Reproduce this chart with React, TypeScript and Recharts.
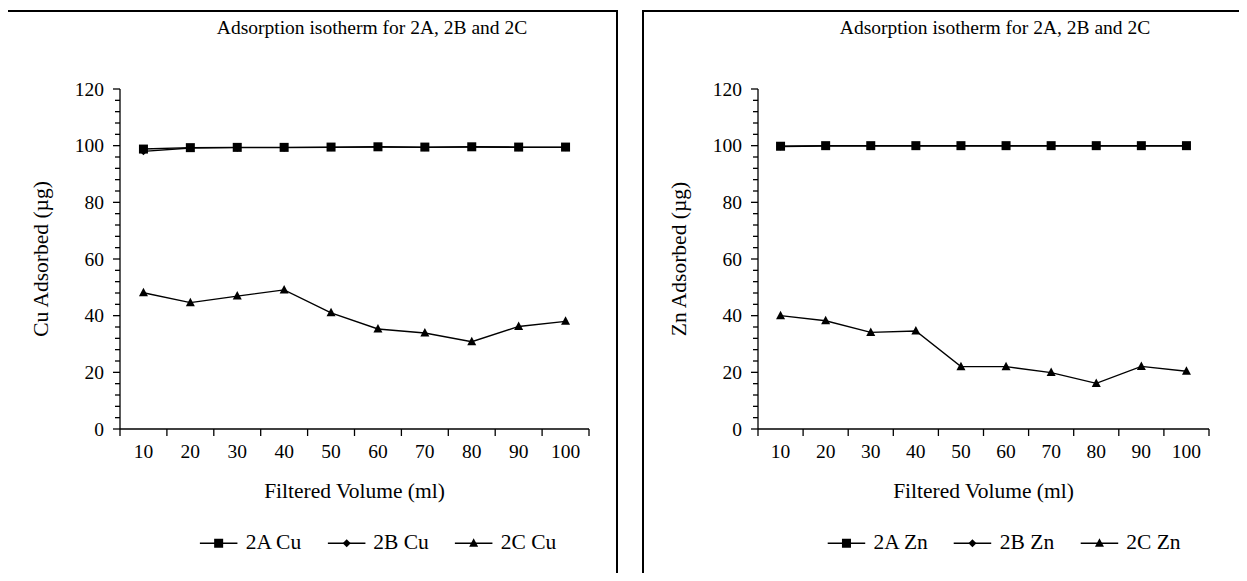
import { LineChart, Line, XAxis, YAxis } from 'recharts';

// filtered volume (ml)
const volumes = [10, 20, 30, 40, 50, 60, 70, 80, 90, 100];
const yTicks = [0, 4, 8, 12, 16, 20, 24, 28, 32, 36, 40, 44, 48, 52, 56, 60, 64, 68, 72, 76, 80, 84, 88, 92, 96, 100, 104, 108, 112, 116, 120];

// Cu adsorbed (µg)
const cu2A = [98.8, 99.3, 99.4, 99.4, 99.5, 99.6, 99.5, 99.6, 99.5, 99.5];
const cu2B = [98.0, 99.2, 99.3, 99.3, 99.4, 99.5, 99.4, 99.5, 99.4, 99.4];
const cu2C = [48.1, 44.6, 46.9, 49.1, 41.0, 35.3, 33.9, 30.8, 36.2, 38.0];

// Zn adsorbed (µg)
const zn2A = [99.8, 100, 100, 100, 100, 100, 100, 100, 100, 100];
const zn2B = [99.7, 99.9, 99.9, 99.9, 99.9, 99.9, 99.9, 99.9, 99.9, 99.9];
const zn2C = [40.0, 38.2, 34.1, 34.6, 22.0, 22.0, 19.9, 16.1, 22.1, 20.4];

const seriesNames = ['2A', '2B', '2C'];
const shapes = ['square', 'diamond', 'triangle'];

const font = '"Liberation Serif", "Times New Roman", serif';
const H = 581;
const PLOT_TOP = 89;
const PLOT_BOTTOM = 429;
const PLOT_LEFT = 120;

function Marker({ cx, cy, shape }: any) {
  if (cx == null || cy == null) return null;
  if (shape === 'square') return <rect x={cx - 4.5} y={cy - 4.5} width={9} height={9} fill="#000" />;
  if (shape === 'diamond') return <polygon points={`${cx},${cy - 4} ${cx + 4},${cy} ${cx},${cy + 4} ${cx - 4},${cy}`} fill="#000" />;
  return <polygon points={`${cx},${cy - 5} ${cx + 4.5},${cy + 3.5} ${cx - 4.5},${cy + 3.5}`} fill="#000" />;
}

const YTick = ({ x, y, payload }: any) => {
  const major = payload.value % 20 === 0;
  return (
    <g>
      <line x1={x - (major ? 7 : 5)} x2={x} y1={y} y2={y} stroke="#000" strokeWidth={1.3} />
      {major && (
        <text x={x - 16} y={y} dy="0.35em" textAnchor="end" fontFamily={font} fontSize={19.5} fill="#000">
          {payload.value}
        </text>
      )}
    </g>
  );
};

const makeXTick = (band: number, count: number) => ({ x, y, payload, index }: any) => (
  <g>
    <line x1={x - band / 2} x2={x - band / 2} y1={y} y2={y + 7} stroke="#000" strokeWidth={1.3} />
    {index === count - 1 && <line x1={x + band / 2} x2={x + band / 2} y1={y} y2={y + 7} stroke="#000" strokeWidth={1.3} />}
    <text x={x} y={y + 22} dy="0.35em" textAnchor="middle" fontFamily={font} fontSize={19.5} fill="#000">
      {payload.value}
    </text>
  </g>
);

function Panel({ left, width, plotRight, metal, values, titleX, legendX }: any) {
  const data = volumes.map((v, i) => ({ vol: v, s0: values[0][i], s1: values[1][i], s2: values[2][i] }));
  const plotW = plotRight - PLOT_LEFT;
  const XTick = makeXTick(plotW / volumes.length, volumes.length);
  const txt = { position: 'absolute' as const, fontFamily: font, fontSize: 21.5, color: '#000', whiteSpace: 'nowrap' as const, lineHeight: 1 };
  return (
    <div style={{ position: 'absolute', left, top: 0, width, height: H }}>
      <LineChart width={width} height={H} data={data} margin={{ top: PLOT_TOP, right: width - plotRight, bottom: H - PLOT_BOTTOM - 30, left: PLOT_LEFT - 60 }}>
        <XAxis dataKey="vol" scale="band" height={30} tickSize={0} tickMargin={0} tick={XTick} stroke="#000" strokeWidth={1.3} interval={0} />
        <YAxis width={60} domain={[0, 120]} ticks={yTicks} tickSize={0} tickMargin={0} tick={YTick} stroke="#000" strokeWidth={1.3} interval={0} />
        {[0, 1, 2].map((k) => (
          <Line
            key={k}
            dataKey={`s${k}`}
            stroke="#000"
            strokeWidth={1.4}
            isAnimationActive={false}
            dot={(p: any) => <Marker key={`${k}-${p.index}`} cx={p.cx} cy={p.cy} shape={shapes[k]} />}
            activeDot={false}
          />
        ))}
      </LineChart>
      <div style={{ ...txt, fontSize: 19.5, left: titleX, top: 28, transform: 'translate(-50%, -50%)' }}>
        Adsorption isotherm for 2A, 2B and 2C
      </div>
      <div style={{ ...txt, left: 42, top: (PLOT_TOP + PLOT_BOTTOM) / 2, transform: 'translate(-50%, -50%) rotate(-90deg)' }}>
        {metal} Adsorbed (µg)
      </div>
      <div style={{ ...txt, left: PLOT_LEFT + plotW / 2, top: 492, transform: 'translate(-50%, -50%)' }}>
        Filtered Volume (ml)
      </div>
      <div style={{ ...txt, left: legendX, top: 543, transform: 'translate(-50%, -50%)', display: 'flex', alignItems: 'center', gap: 26 }}>
        {seriesNames.map((n, k) => (
          <div key={n} style={{ display: 'flex', alignItems: 'center', gap: 8 }}>
            <svg width={38} height={12}>
              <line x1={0} x2={38} y1={6} y2={6} stroke="#000" strokeWidth={1.4} />
              <Marker cx={19} cy={6} shape={shapes[k]} />
            </svg>
            <span>{`${n} ${metal}`}</span>
          </div>
        ))}
      </div>
    </div>
  );
}

export default function App() {
  const frame = { position: 'absolute' as const, top: 10, height: 640, border: '2px solid #000', boxSizing: 'border-box' as const };
  return (
    <div style={{ position: 'relative', width: 1247, height: H, margin: -8, overflow: 'hidden', background: '#fff' }}>
      <div style={{ ...frame, left: 4, width: 614 }} />
      <div style={{ ...frame, left: 642, width: 640 }} />
      <Panel left={0} width={620} plotRight={589} metal="Cu" values={[cu2A, cu2B, cu2C]} titleX={372} legendX={378} />
      <Panel left={638} width={609} plotRight={571} metal="Zn" values={[zn2A, zn2B, zn2C]} titleX={357} legendX={366} />
    </div>
  );
}
